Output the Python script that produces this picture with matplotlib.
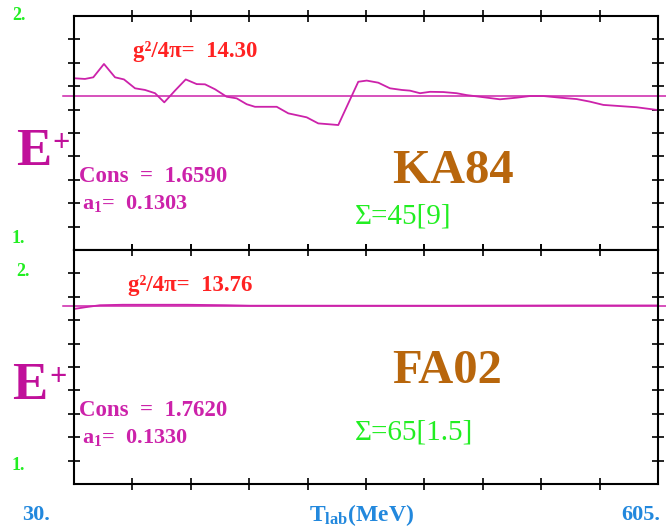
import numpy as np
import matplotlib
matplotlib.use("Agg")
import matplotlib.pyplot as plt

plt.rcParams['font.family'] = ['Liberation Serif', 'DejaVu Serif']
plt.rcParams['mathtext.fontset'] = 'custom'
plt.rcParams['mathtext.rm'] = 'Liberation Serif'
plt.rcParams['mathtext.default'] = 'regular'

# energy range and y range shared by both panels
t_min, t_max = 30.0, 605.0
y_min, y_max = 1.0, 2.0

# KA84 ratio curve
ka84_t = [30.0, 40.8, 49.0, 59.5, 70.4, 79.2, 90.1, 99.9, 109.8, 118.9, 129.4,
          140.0, 150.8, 159.0, 168.8, 180.3, 190.2, 200.0, 208.2, 229.6, 241.0,
          259.1, 270.5, 282.1, 290.2, 309.9, 318.2, 329.6, 341.1, 352.7, 360.8,
          370.7, 380.5, 393.6, 406.8, 416.6, 433.0, 449.4, 465.9, 479.0, 492.1,
          508.5, 524.9, 538.0, 551.2, 567.6, 584.0, 605.0]
ka84_e = [1.734, 1.731, 1.738, 1.795, 1.738, 1.729, 1.691, 1.684, 1.670, 1.631, 1.681,
          1.729, 1.709, 1.708, 1.687, 1.655, 1.648, 1.623, 1.612, 1.612, 1.584,
          1.567, 1.541, 1.537, 1.534, 1.719, 1.724, 1.715, 1.691, 1.684, 1.681,
          1.670, 1.676, 1.675, 1.670, 1.662, 1.653, 1.644, 1.651, 1.658, 1.658,
          1.651, 1.645, 1.634, 1.620, 1.615, 1.610, 1.598]

# FA02 ratio curve
fa02_t = [30.0, 42.0, 55.6, 78.2, 141.0, 180.0, 203.0, 300.0, 400.0, 526.0, 560.0, 605.0]
fa02_e = [1.748, 1.756, 1.764, 1.766, 1.766, 1.764, 1.762, 1.762, 1.762, 1.763, 1.763, 1.763]

panels = [
    dict(t=ka84_t, e=ka84_e, name="KA84", g2="14.30", cons=1.6590, a1="0.1303", chi="Σ=45[9]"),
    dict(t=fa02_t, e=fa02_e, name="FA02", g2="13.76", cons=1.7620, a1="0.1330", chi="Σ=65[1.5]"),
]

W, H = 666, 529
fig = plt.figure(figsize=(W / 100, H / 100), dpi=100)


def fx(px):
    return px / W


def fy(py):
    return 1 - py / H


magenta = "#cc22aa"
e_color = "#c0109a"
red = "#ff2222"
green = "#22ee22"
brown = "#b8660c"
blue = "#2288dd"

left, right = 74, 658
tops = [16, 250]
bottoms = [250, 484]

for i, p in enumerate(panels):
    ax = fig.add_axes([fx(left), fy(bottoms[i]), fx(right - left), (bottoms[i] - tops[i]) / H])
    ax.set_xlim(t_min, t_max)
    ax.set_ylim(y_min, y_max)
    ax.set_xticks(np.arange(t_min + 57.5, t_max - 1, 57.5))
    ax.set_yticks(np.arange(1.1, 1.95, 0.1))
    ax.tick_params(direction='inout', length=9, width=1.2, top=True, right=True,
                   labelbottom=False, labelleft=False)
    for s in ax.spines.values():
        s.set_linewidth(1.5)

    # constant fit line, running a bit past the frame on both sides
    ax.plot([19.0, 613.0], [p["cons"], p["cons"]], color=magenta, lw=1.1, clip_on=False)
    ax.plot(p["t"], p["e"], color=magenta, lw=1.3, clip_on=False)

    y0 = tops[i]
    fig.text(fx(133 - 5 * i), fy(y0 + 35), "g²/4π=  " + p["g2"], color=red,
             fontsize=16.5, fontweight='bold', va='center')
    fig.text(fx(79), fy(y0 + 160), "Cons  =  %.4f" % p["cons"], color=magenta,
             fontsize=16.5, fontweight='bold', va='center')
    fig.text(fx(82), fy(y0 + 187), "a$_1$=  " + p["a1"], color=magenta,
             fontsize=16, fontweight='bold', va='center')
    fig.text(fx(392), fy(y0 + 155 - 34 * i), p["name"], color=brown,
             fontsize=35, fontweight='bold', va='center')
    fig.text(fx(355), fy(y0 + 200 - 17 * i), p["chi"], color=green,
             fontsize=21, va='center')
    # E+ label on the left of each panel
    fig.text(fx(16 - 4 * i), fy(y0 + 149), "E", color=e_color,
             fontsize=38, fontweight='bold', va='baseline')
    fig.text(fx(52 - 3 * i), fy(y0 + 135), "+", color=e_color,
             fontsize=22, fontweight='bold', va='baseline')
    fig.text(fx(12 + 4 * i), fy(y0 + 0 + 22 * i), "2.", color=green, fontsize=13,
             fontweight='bold', va='center')
    fig.text(fx(12), fy(bottoms[i] - 12 - 6 * i), "1.", color=green, fontsize=13,
             fontweight='bold', va='center')

fig.text(fx(22), fy(515), "30.", color=blue, fontsize=16, fontweight='bold', va='center')
fig.text(fx(660), fy(515), "605.", color=blue, fontsize=16, fontweight='bold',
         va='center', ha='right')
fig.text(fx(362), fy(515), "T$_{lab}$(MeV)", color=blue, fontsize=17, fontweight='bold',
         va='center', ha='center')

fig.savefig("out.png", dpi=100)
